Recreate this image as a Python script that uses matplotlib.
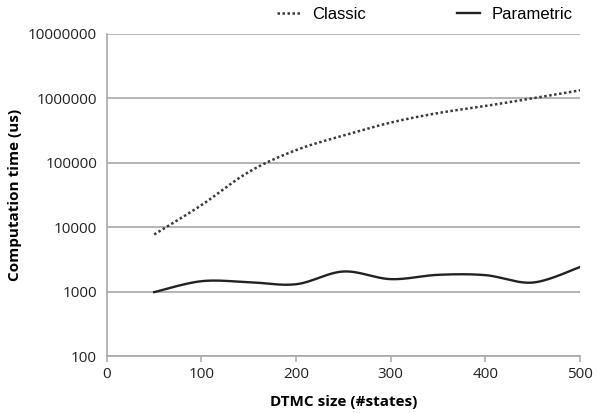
import numpy as np
import matplotlib
matplotlib.use("Agg")
from matplotlib import pyplot as plt

# data
sizes = [50, 100, 150, 200, 250, 300, 350, 400, 450, 500]
classic = [7700, 22000, 72000, 157000, 265000, 420000, 590000, 760000, 1000000, 1330000]
parametric = [980, 1450, 1400, 1300, 2050, 1560, 1820, 1800, 1380, 2400]

x_ticks = [0, 100, 200, 300, 400, 500]
y_ticks = [100, 1000, 10000, 100000, 1000000, 10000000]


def smooth(xs, ys, n=30):
    # excel-like smoothed line, done in log space of y
    p = np.column_stack([np.asarray(xs, float), np.log10(ys)])
    p = np.vstack([p[0], p, p[-1]])
    out = []
    t = np.linspace(0, 1, n)[:, None]
    for i in range(1, len(p) - 2):
        p0, p1, p2, p3 = p[i - 1], p[i], p[i + 1], p[i + 2]
        c1 = p1 + (p2 - p0) / 6
        c2 = p2 - (p3 - p1) / 6
        seg = ((1 - t) ** 3) * p1 + 3 * ((1 - t) ** 2) * t * c1 + 3 * (1 - t) * t ** 2 * c2 + t ** 3 * p2
        out.append(seg)
    out = np.vstack(out)
    return out[:, 0], 10 ** out[:, 1]


fig = plt.figure(figsize=(5.97, 4.13), dpi=100)
ax = fig.add_axes([0.179, 0.138, 0.7925, 0.78])

grid_col = "#a8a8a8"
cx, cy = smooth(sizes, classic)
px, py = smooth(sizes, parametric)
ax.plot(cx, cy, linestyle=(0, (1, 1)), color="#3a3a3a", lw=1.8, label="Classic")
ax.plot(px, py, color="#222222", lw=1.7, label="Parametric")

ax.set_yscale("log")
ax.set_xlim(0, 500)
ax.set_ylim(100, 10000000)
ax.set_xticks(x_ticks)
ax.set_yticks(y_ticks)
ax.set_yticklabels([str(v) for v in y_ticks])
ax.minorticks_off()
ax.yaxis.grid(True, color=grid_col, lw=1.2)
ax.set_axisbelow(True)

for s in ["top", "right"]:
    ax.spines[s].set_visible(False)
for s in ["left", "bottom"]:
    ax.spines[s].set_color(grid_col)
    ax.spines[s].set_linewidth(1.2)

ax.tick_params(axis="y", length=0, pad=7, labelsize=11, labelcolor="#222222")
ax.tick_params(axis="x", length=4, width=1.1, color=grid_col, pad=4, labelsize=11, labelcolor="#222222")
for lab in ax.get_yticklabels() + ax.get_xticklabels():
    lab.set_fontfamily("Open Sans")

ax.set_xlabel("DTMC size (#states)", fontfamily="Open Sans", fontweight="bold", fontsize=11, labelpad=9)
ax.set_ylabel("Computation time (us)", fontfamily="Open Sans", fontweight="bold", fontsize=11, labelpad=4)

fig.legend(loc="upper right", bbox_to_anchor=(0.985, 1.02), ncol=2, frameon=False,
           handlelength=1.4, columnspacing=5.5, handletextpad=0.7,
           prop={"family": "Liberation Sans", "size": 12})

fig.savefig("out.png", dpi=100)
